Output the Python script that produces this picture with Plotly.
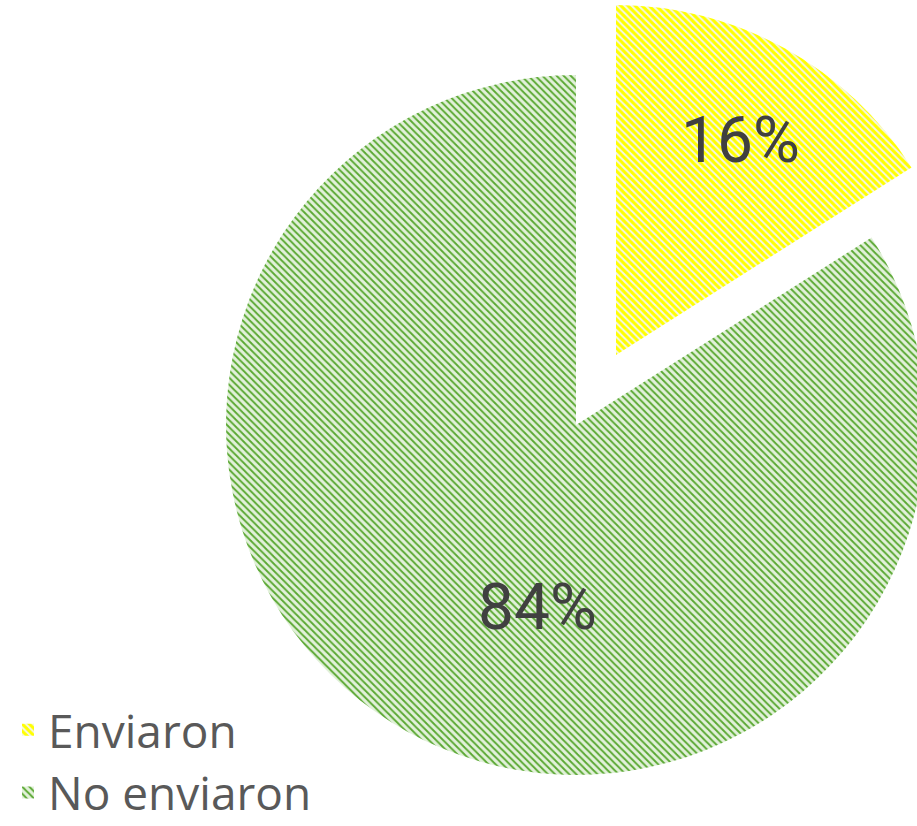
import plotly.graph_objects as go

# ---- data ----
labels = ["Enviaron", "No enviaron"]
values = [16, 84]

# ---- style ----
fg_colors = ["#ffff00", "#5aa832"]
bg_colors = ["#f6f7e8", "#e2f1da"]
solidity = [0.6, 0.38]
CLEAR = "rgba(0,0,0,0)"

FIG_W, FIG_H = 1000, 826
CX, CY, R = 576, 425, 350          # centre of the main pie (px from top-left)
PULL_DX, PULL_DY = 40, -70         # explosion offset of the first slice (px)
LABEL_PX = [(740, 140), (537, 607)]  # label centres (px from top-left)


def dom(cx, cy, r):
    return dict(
        x=[(cx - r) / FIG_W, (cx + r) / FIG_W],
        y=[(FIG_H - (cy + r)) / FIG_H, (FIG_H - (cy - r)) / FIG_H],
    )


def pattern(show):
    return dict(
        shape=["\\" if s else "" for s in show],
        fgcolor=[fg_colors[i] if s else CLEAR for i, s in enumerate(show)],
        bgcolor=[bg_colors[i] if s else CLEAR for i, s in enumerate(show)],
        size=5,
        solidity=solidity,
        fillmode="replace",
    )


fig = go.Figure()

# legend carrier (tiny, invisible)
fig.add_trace(go.Pie(
    labels=labels, values=values, sort=False, direction="clockwise",
    domain=dict(x=[0, 0.0001], y=[0, 0.0001]),
    marker=dict(colors=bg_colors, pattern=pattern([True, True]), line=dict(width=0)),
    textinfo="none", hoverinfo="skip", showlegend=True,
))

# exploded slice
fig.add_trace(go.Pie(
    labels=labels, values=values, sort=False, direction="clockwise",
    domain=dom(CX + PULL_DX, CY + PULL_DY, R),
    marker=dict(colors=[bg_colors[0], CLEAR], pattern=pattern([True, False]), line=dict(width=0)),
    textinfo="none", showlegend=False,
))

# remaining slice
fig.add_trace(go.Pie(
    labels=labels, values=values, sort=False, direction="clockwise",
    domain=dom(CX, CY, R),
    marker=dict(colors=[CLEAR, bg_colors[1]], pattern=pattern([False, True]), line=dict(width=0)),
    textinfo="none", showlegend=False,
))

total = sum(values)
for v, (px, py) in zip(values, LABEL_PX):
    fig.add_annotation(
        x=px / FIG_W, y=(FIG_H - py) / FIG_H, xref="paper", yref="paper",
        text=f"{round(100 * v / total)}%", showarrow=False,
        xanchor="center", yanchor="middle",
        font=dict(family="Roboto, sans-serif", size=64, color="#404040"),
    )

fig.update_layout(
    width=FIG_W, height=FIG_H,
    margin=dict(l=0, r=0, t=0, b=0, autoexpand=False),
    paper_bgcolor="white", plot_bgcolor="white",
    legend=dict(
        x=8 / FIG_W, y=-0.004, xanchor="left", yanchor="bottom",
        font=dict(family="Open Sans, sans-serif", size=46, color="#595959"),
        traceorder="normal", bgcolor="rgba(0,0,0,0)",
    ),
)

fig.write_html(
    "out.html",
    post_script="document.body.style.margin='0';document.body.style.overflow='hidden';",
)
